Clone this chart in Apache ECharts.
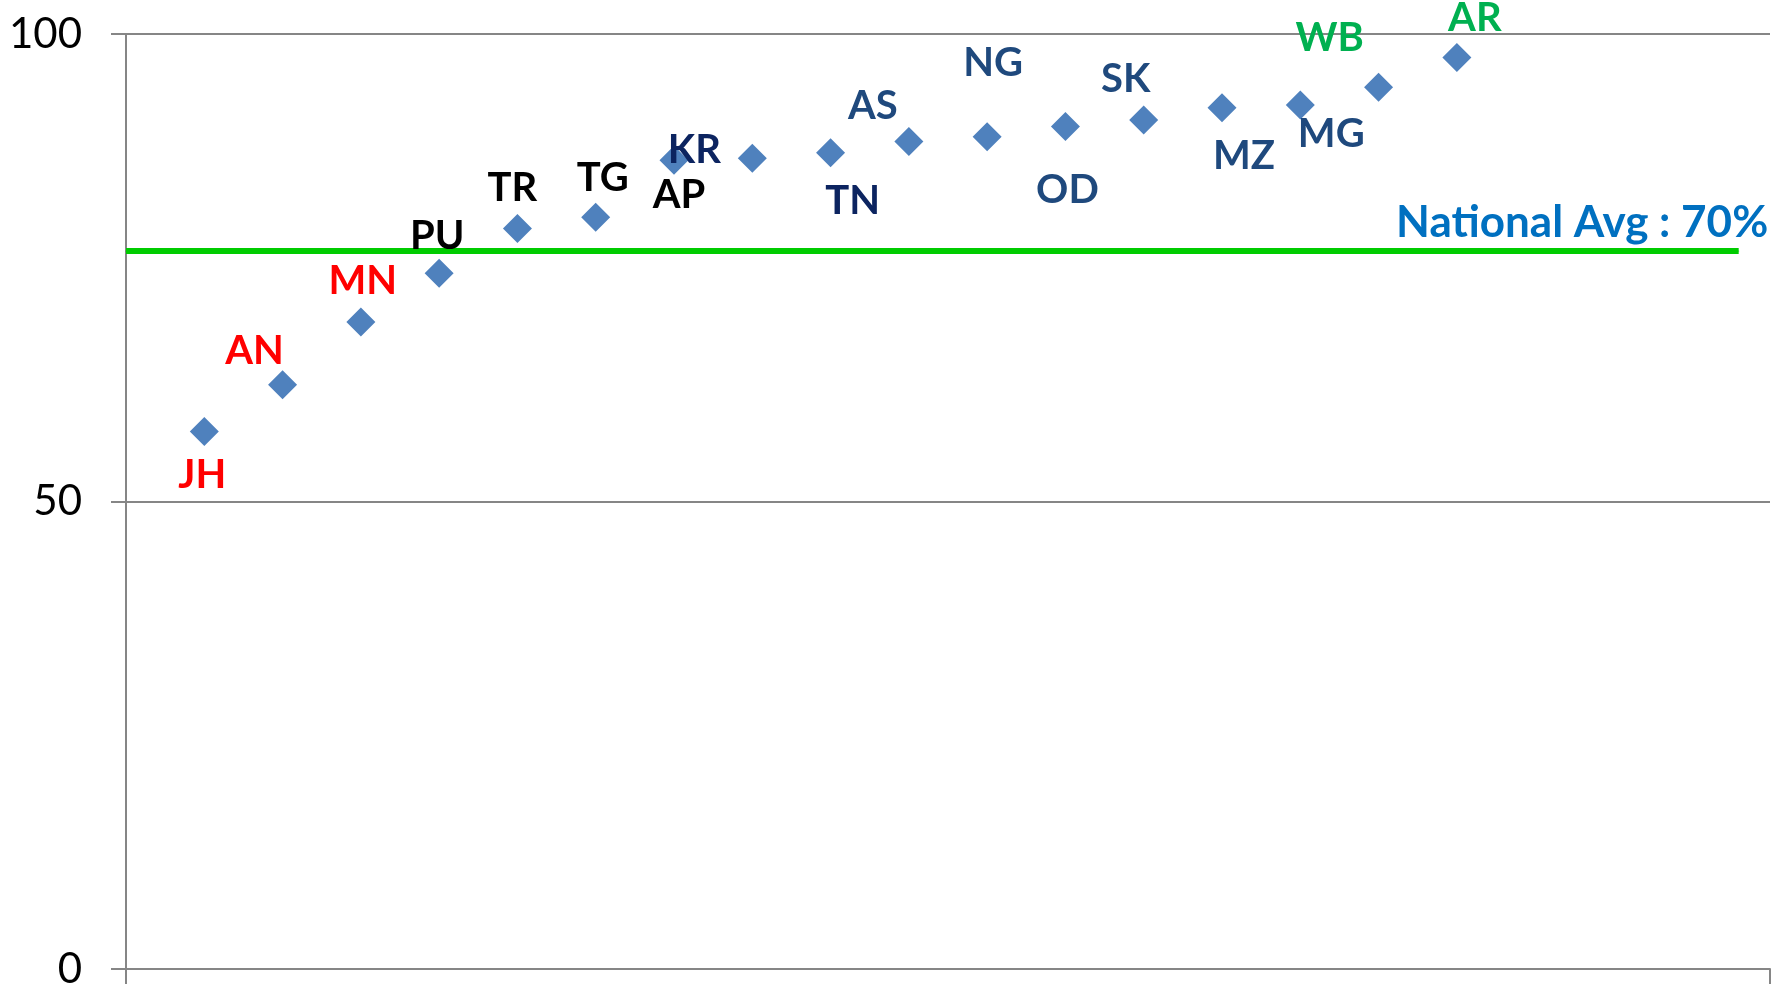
<!DOCTYPE html>
<html>
<head>
    <meta charset="utf-8">
    <title>States scatter</title>
    <script src="https://cdn.jsdelivr.net/npm/echarts@6/dist/echarts.min.js"></script>
    <style>
        html, body { margin: 0; padding: 0; background: #fff; }
    </style>
</head>
<body>
<div id="main" style="width: 1777px;height:994px;"></div>
<script type="text/javascript">
        // data
        var states = ['JH', 'AN', 'MN', 'PU', 'TR', 'TG', 'AP', 'KR', 'TN', 'AS', 'NG', 'OD', 'SK', 'MZ', 'MG', 'WB', 'AR'];
        var positions = [1, 2, 3, 4, 5, 6, 7, 8, 9, 10, 11, 12, 13, 14, 15, 16, 17];
        var values = [57.5, 62.5, 69.2, 74.4, 79.2, 80.4, 86.5, 86.7, 87.3, 88.5, 89.0, 90.1, 90.8, 92.1, 92.4, 94.3, 97.5];
        var yTicks = [0, 50, 100];
        var avgLineX = [0, 20.6];
        var avgLineY = [76.8, 76.8];
        var avgText = 'National Avg : 70%';

        // label placement / colours (style only)
        var labelOffsets = [[-2, 44], [-28, -34], [2, -41], [-2, -37], [-5, -40], [7, -39], [5, 35], [-58, -8],
            [22, 48], [-36, -35], [6, -74], [2, 64], [-18, -41], [22, 48], [31, 29], [-49, -49], [18, -39]];
        var labelColors = ['#ff0000', '#ff0000', '#ff0000', '#000000', '#000000', '#000000', '#000000', '#0c2460',
            '#0c2460', '#1f497d', '#1f497d', '#1f497d', '#1f497d', '#1f497d', '#1f497d', '#00b050', '#00b050'];

        var myChart = echarts.init(document.getElementById('main'));

        var scatterData = states.map(function (s, i) {
            return {
                name: s,
                value: [positions[i], values[i]],
                label: {
                    offset: labelOffsets[i],
                    color: labelColors[i]
                }
            };
        });

        var avgData = avgLineX.map(function (x, i) {
            return [x, avgLineY[i]];
        });

        var option = {
            animation: false,
            grid: { left: 126, right: 7, top: 34, bottom: 25 },
            xAxis: {
                type: 'value',
                min: 0,
                max: 21,
                interval: 21,
                axisLine: { show: true, lineStyle: { color: '#868686', width: 2 } },
                axisTick: { show: true, length: 15, lineStyle: { color: '#868686', width: 2 } },
                axisLabel: { show: false },
                splitLine: { show: false }
            },
            yAxis: {
                type: 'value',
                min: yTicks[0],
                max: yTicks[yTicks.length - 1],
                interval: yTicks[1] - yTicks[0],
                axisLine: { show: true, lineStyle: { color: '#868686', width: 2 } },
                axisTick: { show: true, length: 15, lineStyle: { color: '#868686', width: 2 } },
                axisLabel: { fontFamily: 'Lato', fontSize: 42, color: '#000', margin: 44 },
                splitLine: { show: true, lineStyle: { color: '#868686', width: 2 } }
            },
            series: [
                {
                    name: 'National Avg',
                    type: 'line',
                    data: avgData,
                    symbol: 'circle',
                    symbolSize: 1,
                    itemStyle: { color: '#00cc00', opacity: 1 },
                    lineStyle: { color: '#00cc00', width: 6, opacity: 1 },
                    label: {
                        show: true,
                        formatter: function (p) { return p.dataIndex === avgData.length - 1 ? avgText : ''; },
                        position: [30, -28],
                        align: 'right',
                        verticalAlign: 'middle',
                        fontFamily: 'Lato',
                        fontWeight: 'bold',
                        fontSize: 44,
                        color: '#0070c0',
                        opacity: 1
                    },
                    z: 1
                },
                {
                    name: 'States',
                    type: 'scatter',
                    data: scatterData,
                    symbol: 'diamond',
                    symbolSize: 29,
                    itemStyle: { color: '#4f81bd', opacity: 1 },
                    label: {
                        show: true,
                        position: 'inside',
                        formatter: '{b}',
                        fontFamily: 'Lato',
                        fontWeight: 'bold',
                        fontSize: 40,
                        opacity: 1
                    },
                    z: 3
                }
            ]
        };

        myChart.setOption(option);
    </script>
</body>
</html>
